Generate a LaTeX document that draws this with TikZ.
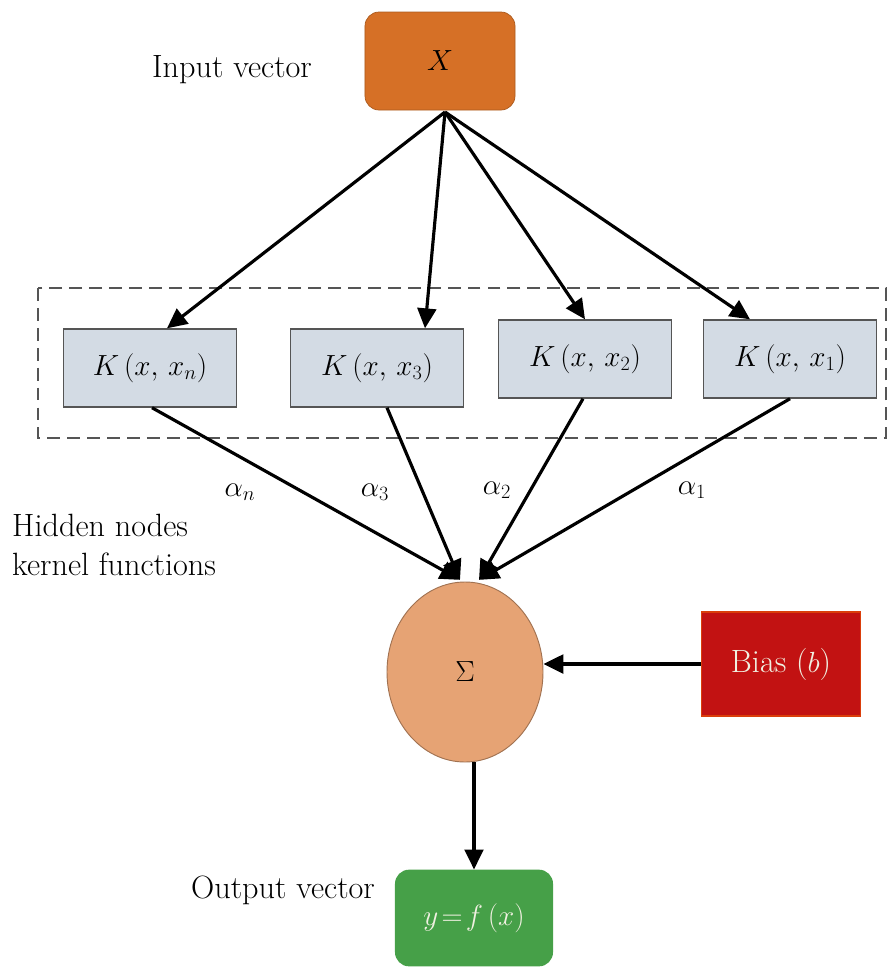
\documentclass[tikz,border=0pt]{standalone}
\usetikzlibrary{arrows.meta,shapes.geometric,calc}
\definecolor{xorange}{RGB}{214,112,38}
\definecolor{kfill}{RGB}{211,219,228}
\definecolor{kborder}{RGB}{85,85,85}
\definecolor{peach}{RGB}{230,163,116}
\definecolor{biasred}{RGB}{194,18,18}
\definecolor{outgreen}{RGB}{70,160,72}
\definecolor{lighttext}{RGB}{240,240,225}
\begin{document}
\begin{tikzpicture}[x=0.03cm,y=-0.03cm,
  every node/.style={font=\fontsize{24}{30}\selectfont},
  txt/.style={font=\fontsize{27.5}{34}\selectfont},
  kbox/.style={draw=kborder,line width=1.2pt,fill=kfill,minimum width=5.19cm,minimum height=2.34cm,inner sep=0pt},
  arr/.style={line width=2.7pt,-{Triangle[length=17pt,width=16pt]}},
  lbl/.style={inner sep=0pt}]
\useasboundingbox (0,0) rectangle (888,968);
% dashed group
\draw[kborder,line width=1.4pt,dash pattern=on 11pt off 6pt] (38,288) rectangle (886,438);
% nodes
\node[draw=xorange!80!black,line width=0.6pt,fill=xorange,rounded corners=12pt,minimum width=4.5cm,minimum height=2.94cm,inner sep=0pt] (X) at (440,61) {$X$};
\node[lbl,txt] (inlbl) at (232,70) {Input vector};
\node[kbox] (Kn) at (150,368) {$K\,(x,\,x_n)$};
\node[kbox] (K3) at (377,368) {$K\,(x,\,x_3)$};
\node[kbox] (K2) at (585,359) {$K\,(x,\,x_2)$};
\node[kbox] (K1) at (790,359) {$K\,(x,\,x_1)$};
\node[draw=peach!70!black,line width=0.8pt,fill=peach,ellipse,minimum width=4.68cm,minimum height=5.4cm,inner sep=0pt] (S) at (465,672) {$\Sigma$};
\node[draw=biasred!60!orange,line width=1pt,fill=biasred,text=lighttext,txt,minimum width=4.77cm,minimum height=3.12cm,inner sep=0pt] (B) at (781,664) {Bias ($b$)};
\node[fill=outgreen,text=lighttext,rounded corners=12pt,minimum width=4.74cm,minimum height=2.9cm,inner sep=0pt] (O) at (474,918) {$y\!=\!f\,(x)$};
\node[lbl,txt] (outlbl) at (283,890) {Output vector};
\node[lbl,txt,anchor=west,align=left] (hid) at (12,545) {Hidden nodes\\kernel functions};
% alpha labels
\node[lbl] (an) at (240,492) {$\alpha_n$};
\node[lbl] (a3) at (375,492) {$\alpha_3$};
\node[lbl] (a2) at (497,490) {$\alpha_2$};
\node[lbl] (a1) at (692,490) {$\alpha_1$};
% arrows from X
\coordinate (xs) at ([xshift=0.15cm,yshift=-0.05cm]X.south);
\draw[arr] (xs) -- ([xshift=0.51cm]Kn.north);
\draw[arr] (xs) -- ([xshift=1.44cm]K3.north);
\draw[arr] (xs) -- (K2.north);
\draw[arr] (xs) -- ([xshift=-1.2cm]K1.north);
% arrows to sum
\coordinate (sl) at ([xshift=-0.15cm,yshift=0.05cm]S.north);
\coordinate (sr) at ([xshift=0.42cm,yshift=0.05cm]S.north);
\draw[arr] ([xshift=0.06cm]Kn.south) -- (sl);
\draw[arr] ([xshift=0.3cm]K3.south) -- (sl);
\draw[arr] ([xshift=-0.06cm]K2.south) -- (sr);
\draw[arr] (K1.south) -- (sr);
% bias and output
\draw[arr] (B.west) -- (B.west -| S.east);
\draw[arr] (S.south -| O.north) -- (O.north);
\end{tikzpicture}
\end{document}
